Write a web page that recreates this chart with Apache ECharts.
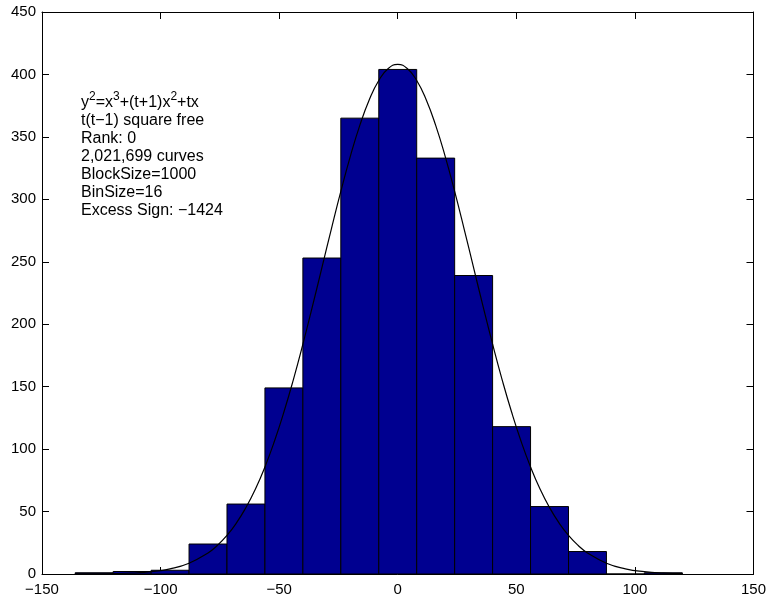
<!DOCTYPE html>
<html><head><meta charset="utf-8">
<script src="https://cdn.jsdelivr.net/npm/echarts@6/dist/echarts.min.js"></script>
<style>html,body{margin:0;padding:0;background:#fff}#c{width:769px;height:600px}</style>
</head><body><div id="c"></div>
<script>
// Histogram bins (center, count)
const binCenters = [-128,-112,-96,-80,-64,-48,-32,-16,0,16,32,48,64,80,96,112];
const binCounts  = [1,2,3,24,56,149,253,365,404,333,239,118,54,18,0,1];
const binWidth = 16;
// Fitted curve
const curveX = [-136,-128,-120,-112,-104,-96,-88,-80,-76,-72,-68,-64,-60,-56,-52,-48,-44,-40,-36,-32,-28,-24,-20,-16,-12,-8,-4,0,
                4,8,12,16,20,24,28,32,36,40,44,48,52,56,60,64,68,72,76,80,88,96,104,112,120];
const curveY = [0.04,0.12,0.32,0.79,1.88,4.16,8.66,16.9,23.0,30.9,40.9,53.2,68.0,85.7,106.3,129.7,155.7,184.0,214.1,245.1,276.2,306.3,334.4,359.2,379.8,395.2,404.8,408,
                404.8,395.2,379.8,359.2,334.4,306.3,276.2,245.1,214.1,184.0,155.7,129.7,106.3,85.7,68.0,53.2,40.9,30.9,23.0,16.9,8.66,4.16,1.88,0.79,0.32];
const xRange = [-150, 150], xStep = 50;
const yRange = [0, 450], yStep = 50;
const noteLines = ['t(t\u22121) square free','Rank: 0','2,021,699 curves','BlockSize=1000','BinSize=16','Excess Sign: \u22121424'];

const FONT = 'Liberation Sans, Arial, Helvetica, sans-serif';
const chart = echarts.init(document.getElementById('c'));
const minus = v => String(v).replace('-', '\u2212');
const axisCommon = {
  axisLine: {show: true, onZero: false, lineStyle: {color: '#000', width: 1}},
  axisTick: {show: true, inside: true, length: 7, lineStyle: {color: '#000'}},
  splitLine: {show: false}
};
const labelStyle = {color: '#000', fontFamily: FONT, fontSize: 15};
chart.setOption({
  animation: false,
  backgroundColor: '#fff',
  grid: {left: 42, right: 13, top: 12, bottom: 26, containLabel: false},
  xAxis: [
    Object.assign({type: 'value', min: xRange[0], max: xRange[1], interval: xStep, position: 'bottom',
      axisLabel: Object.assign({margin: 8, formatter: minus}, labelStyle)}, axisCommon),
    Object.assign({type: 'value', min: xRange[0], max: xRange[1], interval: xStep, position: 'top',
      axisLabel: {show: false}}, axisCommon)
  ],
  yAxis: [
    Object.assign({type: 'value', min: yRange[0], max: yRange[1], interval: yStep, position: 'left',
      axisLabel: Object.assign({margin: 6, formatter: minus}, labelStyle)}, axisCommon),
    Object.assign({type: 'value', min: yRange[0], max: yRange[1], interval: yStep, position: 'right',
      axisLabel: {show: false}}, axisCommon)
  ],
  series: [
    {
      type: 'custom',
      xAxisIndex: 0, yAxisIndex: 0,
      data: binCenters.map((c, i) => [c, binCounts[i]]),
      encode: {x: 0, y: 1},
      renderItem: (params, api) => {
        const c = api.value(0), v = api.value(1);
        const p0 = api.coord([c - binWidth / 2, v]);
        const p1 = api.coord([c + binWidth / 2, 0]);
        return {type: 'rect',
          shape: {x: p0[0], y: p0[1], width: p1[0] - p0[0], height: p1[1] - p0[1]},
          style: {fill: '#000090', stroke: '#000', lineWidth: 1}};
      },
      z: 2
    },
    {
      type: 'line',
      xAxisIndex: 0, yAxisIndex: 0,
      data: curveX.map((x, i) => [x, curveY[i]]),
      smooth: true,
      showSymbol: false,
      lineStyle: {color: '#000', width: 1.2},
      z: 3
    }
  ],
  graphic: [{
    type: 'text',
    left: 81, top: 91,
    z: 10,
    style: {
      text: '{a|y}{s|2}{a|=x}{s|3}{a|+(t+1)x}{s|2}{a|+tx}\n' + noteLines.map(l => '{a|' + l + '}').join('\n'),
      fill: '#000',
      font: '16px ' + FONT,
      rich: {
        a: {fontSize: 16, fontFamily: FONT, lineHeight: 18, fill: '#000', verticalAlign: 'bottom'},
        s: {fontSize: 12, fontFamily: FONT, lineHeight: 18, fill: '#000', verticalAlign: 'bottom', padding: [0, 0, 8, 0]}
      }
    }
  }]
});
</script></body></html>
